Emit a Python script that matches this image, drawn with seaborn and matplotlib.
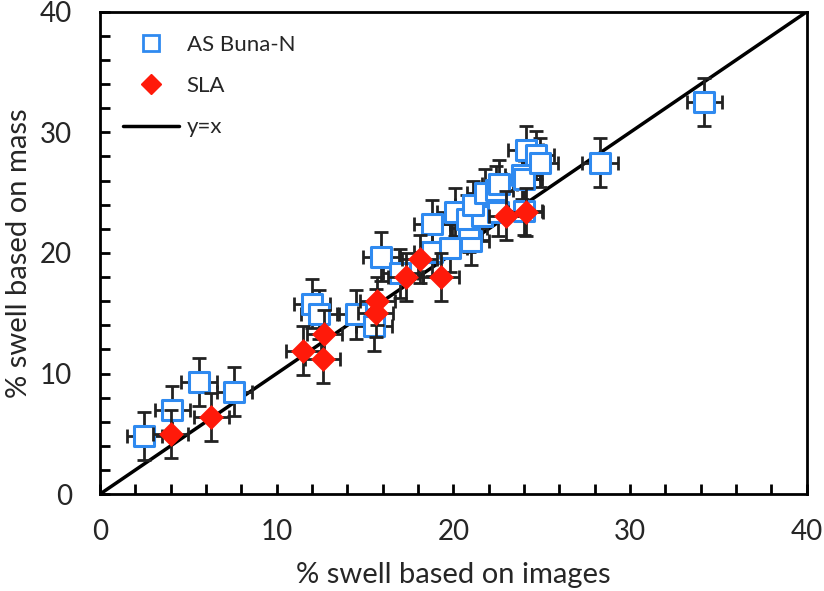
import numpy as np
import pandas as pd
import seaborn as sns
import matplotlib.pyplot as plt
from matplotlib.lines import Line2D
from matplotlib.ticker import MultipleLocator

# AS Buna-N samples: % swell from images (x) vs from mass (y)
buna_x = [2.5, 4.1, 5.6, 7.6, 12.0, 12.4, 14.5, 15.5, 15.9, 17.0, 18.8, 19.8,
          21.0, 20.9, 18.8, 20.1, 20.8, 21.6, 21.1, 21.8, 22.4, 22.6, 22.5,
          23.9, 24.0, 24.1, 24.7, 24.9, 24.0, 28.3, 34.2]
buna_y = [4.8, 7.0, 9.3, 8.5, 15.8, 14.9, 14.9, 13.9, 19.7, 18.3, 20.1, 20.4,
          21.0, 22.1, 22.4, 23.4, 22.8, 23.1, 24.0, 25.0, 25.2, 25.7, 23.4,
          26.5, 26.1, 28.5, 28.1, 27.5, 23.5, 27.5, 32.5]

# SLA samples
sla_x = [4.0, 6.3, 11.5, 12.6, 12.7, 15.6, 15.7, 17.3, 18.1, 19.3, 23.0, 24.1]
sla_y = [5.0, 6.4, 11.9, 11.2, 13.3, 15.0, 16.0, 18.0, 19.5, 18.0, 23.1, 23.4]

x_err = 1.0
y_err = 2.0

buna_color = "#2F8AF0"
sla_color = "#FF1A0A"

df_buna = pd.DataFrame({"x": buna_x, "y": buna_y})
df_sla = pd.DataFrame({"x": sla_x, "y": sla_y})

sns.set_style("white")
plt.rcParams["font.family"] = ["Lato", "DejaVu Sans"]

fig = plt.figure(figsize=(8.24, 5.91), dpi=100)
ax = fig.add_axes([0.1214, 0.164, 0.8576, 0.816])

# y = x reference line
ax.plot([0, 40], [0, 40], color="black", lw=2.5, zorder=1)

eb_kw = dict(fmt="none", ecolor="#222222", elinewidth=2, capsize=5, capthick=2)
ax.errorbar(df_buna["x"], df_buna["y"], xerr=x_err, yerr=y_err, zorder=2, **eb_kw)
sns.scatterplot(data=df_buna, x="x", y="y", marker="s", s=215,
                facecolor="white", edgecolor=buna_color, linewidth=2.2,
                zorder=3, ax=ax, legend=False)
ax.errorbar(df_sla["x"], df_sla["y"], xerr=x_err, yerr=y_err, zorder=4, **eb_kw)
sns.scatterplot(data=df_sla, x="x", y="y", marker="D", s=160,
                color=sla_color, edgecolor=sla_color, linewidth=0,
                zorder=5, ax=ax, legend=False)

ax.set_xlim(0, 40)
ax.set_ylim(0, 40)
ax.xaxis.set_major_locator(MultipleLocator(10))
ax.yaxis.set_major_locator(MultipleLocator(10))
ax.xaxis.set_minor_locator(MultipleLocator(2))
ax.yaxis.set_minor_locator(MultipleLocator(2))
ax.tick_params(which="both", direction="in", length=7, width=2, color="black",
               bottom=True, left=True, top=False, right=False)
ax.tick_params(which="major", labelsize=20)
ax.tick_params(axis="x", which="major", pad=18)
ax.tick_params(axis="y", which="major", pad=20)
for sp in ax.spines.values():
    sp.set_color("black")
    sp.set_linewidth(2)

ax.set_xlabel("% swell based on images", fontsize=21, labelpad=12)
ax.set_ylabel("% swell based on mass", fontsize=21, labelpad=6)

handles = [
    Line2D([], [], marker="s", ls="none", ms=11, mfc="white", mec=buna_color, mew=2),
    Line2D([], [], marker="D", ls="none", ms=10, mfc=sla_color, mec=sla_color),
    Line2D([], [], color="black", lw=2.5),
]
ax.legend(handles, ["AS Buna-N", "SLA", "y=x"], loc="upper left", frameon=False,
          fontsize=16, labelspacing=0.95, handlelength=2.5, borderaxespad=0.7,
          borderpad=0.35, handletextpad=0.35)

fig.savefig("out.png", dpi=100)
